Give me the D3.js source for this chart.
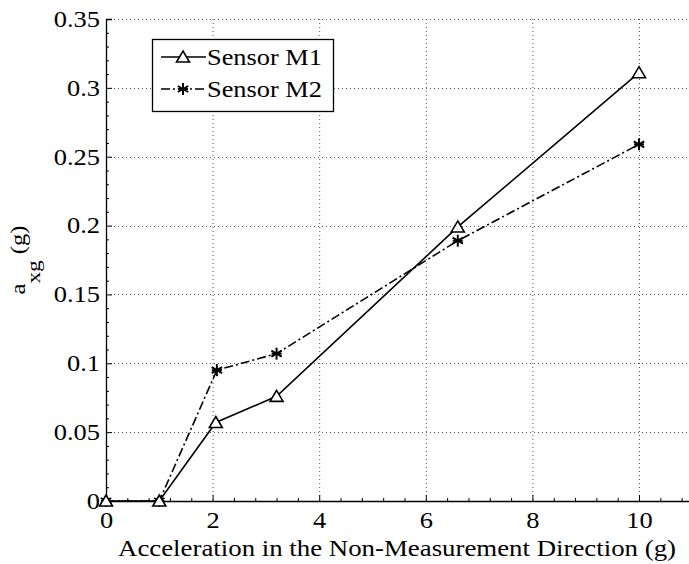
<!DOCTYPE html>
<html>
<head>
<meta charset="utf-8">
<script src="https://cdn.jsdelivr.net/npm/d3@7/dist/d3.min.js"></script>
<style>
  html, body { margin: 0; padding: 0; background: #fff; }
  svg { display: block; }
  svg text { font-family: "Liberation Serif", "Times New Roman", serif; }
</style>
</head>
<body>
<div id="chart"></div>
<script>
// Acceleration in the non-measurement direction (g)
var accelM1 = [0, 1, 2.06, 3.2, 6.6, 10];
var accelM2 = [0, 1, 2.08, 3.2, 6.6, 10];
// Measured cross-axis output a_xg (g)
var axgM1 = [0, 0, 0.057, 0.076, 0.199, 0.311];
var axgM2 = [0, 0, 0.095, 0.107, 0.189, 0.259];
var seriesNames = ['Sensor M1', 'Sensor M2'];
var xTicks = [0, 2, 4, 6, 8, 10];
var yTicks = [0, 0.05, 0.1, 0.15, 0.2, 0.25, 0.3, 0.35];

var width = 689, height = 564;
var margin = { left: 106, top: 19, bottom: 63 };
var serif = 'Liberation Serif';

var x = d3.scaleLinear().domain([0, 11]).range([margin.left, margin.left + 11 * 53.3]);
var y = d3.scaleLinear().domain([0, 0.35]).range([height - margin.bottom, margin.top]);

var svg = d3.select('#chart').append('svg').attr('width', width).attr('height', height)
  .attr('font-family', serif);

// the reference font renders wider than Liberation Serif, so stretch text horizontally
function stretch(sel, f) {
  sel.each(function () {
    var len = this.getComputedTextLength();
    d3.select(this).attr('textLength', len * f).attr('lengthAdjust', 'spacingAndGlyphs');
  });
}

// dotted grid
var grid = svg.append('g').attr('stroke', '#555').attr('stroke-width', 1).attr('stroke-dasharray', '1,3');
grid.selectAll('.vg').data(xTicks.filter((d) => d > 0)).join('line')
  .attr('x1', (d) => x(d) + 0.5).attr('x2', (d) => x(d) + 0.5)
  .attr('y1', y(0.35)).attr('y2', y(0));
grid.selectAll('.hg').data(yTicks.filter((d) => d > 0)).join('line')
  .attr('y1', (d) => Math.round(y(d)) + 0.5).attr('y2', (d) => Math.round(y(d)) + 0.5)
  .attr('x1', x(0)).attr('x2', width);

// axes with inward ticks
var xAxis = svg.append('g').attr('transform', `translate(0,${y(0)})`)
  .call(d3.axisBottom(x).tickValues(xTicks).tickSize(-6).tickPadding(11).tickFormat(d3.format('d')));
xAxis.select('.domain').attr('stroke-width', 1.3);
var xMinor = d3.range(0, 11.01, 0.4).filter((v) => Math.abs(v / 2 - Math.round(v / 2)) > 0.01);
svg.append('g').attr('transform', `translate(0,${y(0)})`)
  .call(d3.axisBottom(x).tickValues(xMinor).tickSize(-3).tickFormat(''))
  .select('.domain').remove();

var yAxis = svg.append('g').attr('transform', `translate(${x(0)},0)`)
  .call(d3.axisLeft(y).tickValues(yTicks).tickSize(-6).tickPadding(6)
    .tickFormat((d) => (d === 0 ? '0' : d3.format('~g')(d))));
yAxis.select('.domain').attr('stroke-width', 1.3);
svg.append('g').attr('transform', `translate(${x(0)},0)`)
  .call(d3.axisLeft(y).tickValues(d3.range(0.01, 0.35, 0.01).filter((v) => Math.abs(v * 20 - Math.round(v * 20)) > 0.01)).tickSize(-3).tickFormat(''))
  .select('.domain').remove();

[xAxis, yAxis].forEach((a) => a.attr('font-family', serif).attr('font-size', null));
svg.selectAll('.tick text').attr('font-family', serif).attr('font-size', 23).attr('fill', '#000');
svg.selectAll('.tick line').attr('stroke', '#000');
svg.selectAll('.domain').attr('stroke', '#000');
stretch(svg.selectAll('.tick text'), 1.15);

// axis titles
svg.append('text')
  .attr('x', 397).attr('y', 556)
  .attr('text-anchor', 'middle').attr('font-size', 24)
  .attr('textLength', 558).attr('lengthAdjust', 'spacingAndGlyphs')
  .text('Acceleration in the Non-Measurement Direction (g)');

var yt = svg.append('text')
  .attr('transform', `translate(25,260) rotate(-90)`)
  .attr('text-anchor', 'middle').attr('font-size', 20);
yt.append('tspan').text('a');
yt.append('tspan').attr('dy', 15).attr('font-size', 19).text('xg');
yt.append('tspan').attr('dy', -15).text(' (g)');
yt.attr('textLength', 69).attr('lengthAdjust', 'spacingAndGlyphs');

// series
var m1 = accelM1.map((v, i) => [v, axgM1[i]]);
var m2 = accelM2.map((v, i) => [v, axgM2[i]]);
var line = d3.line().x((d) => x(d[0])).y((d) => y(d[1]));

svg.append('path').datum(m2).attr('d', line).attr('fill', 'none')
  .attr('stroke', '#000').attr('stroke-width', 1.6).attr('stroke-dasharray', '9,3,2,3');
svg.append('path').datum(m1).attr('d', line).attr('fill', 'none')
  .attr('stroke', '#000').attr('stroke-width', 1.6);

function triangle(g) {
  g.append('path').attr('d', 'M0,-6L6.5,5L-6.5,5Z')
    .attr('fill', '#fff').attr('stroke', '#000').attr('stroke-width', 1.6);
}
function asterisk(g) {
  var a = g.append('g').attr('stroke', '#000').attr('stroke-width', 2);
  [0, 60, 120].forEach((r) => {
    a.append('line').attr('x1', 0).attr('y1', -6).attr('x2', 0).attr('y2', 6)
      .attr('transform', `rotate(${r})`);
  });
  a.append('line').attr('x1', -5).attr('x2', 5).attr('y1', 0).attr('y2', 0);
}

svg.append('g').selectAll('g').data(m2).join('g')
  .attr('transform', (d) => `translate(${x(d[0])},${y(d[1])})`).each(function () { asterisk(d3.select(this)); });
svg.append('g').selectAll('g').data(m1).join('g')
  .attr('transform', (d) => `translate(${x(d[0])},${y(d[1])})`).each(function () { triangle(d3.select(this)); });

// legend
var lg = svg.append('g');
lg.append('rect').attr('x', 152.5).attr('y', 39.5).attr('width', 181).attr('height', 72)
  .attr('fill', '#fff').attr('stroke', '#000').attr('stroke-width', 1.3);
var rows = [57, 89];
lg.append('line').attr('x1', 161).attr('x2', 206).attr('y1', rows[0]).attr('y2', rows[0])
  .attr('stroke', '#000').attr('stroke-width', 1.6);
triangle(lg.append('g').attr('transform', `translate(183,${rows[0]})`));
lg.append('line').attr('x1', 161).attr('x2', 206).attr('y1', rows[1]).attr('y2', rows[1])
  .attr('stroke', '#000').attr('stroke-width', 1.6).attr('stroke-dasharray', '9,3,2,3');
asterisk(lg.append('g').attr('transform', `translate(183,${rows[1]})`));
lg.selectAll('.lt').data(seriesNames).join('text')
  .attr('x', 207).attr('y', (d, i) => rows[i] + 8).attr('font-size', 24)
  .attr('textLength', 115).attr('lengthAdjust', 'spacingAndGlyphs').text((d) => d);
</script>
</body>
</html>
